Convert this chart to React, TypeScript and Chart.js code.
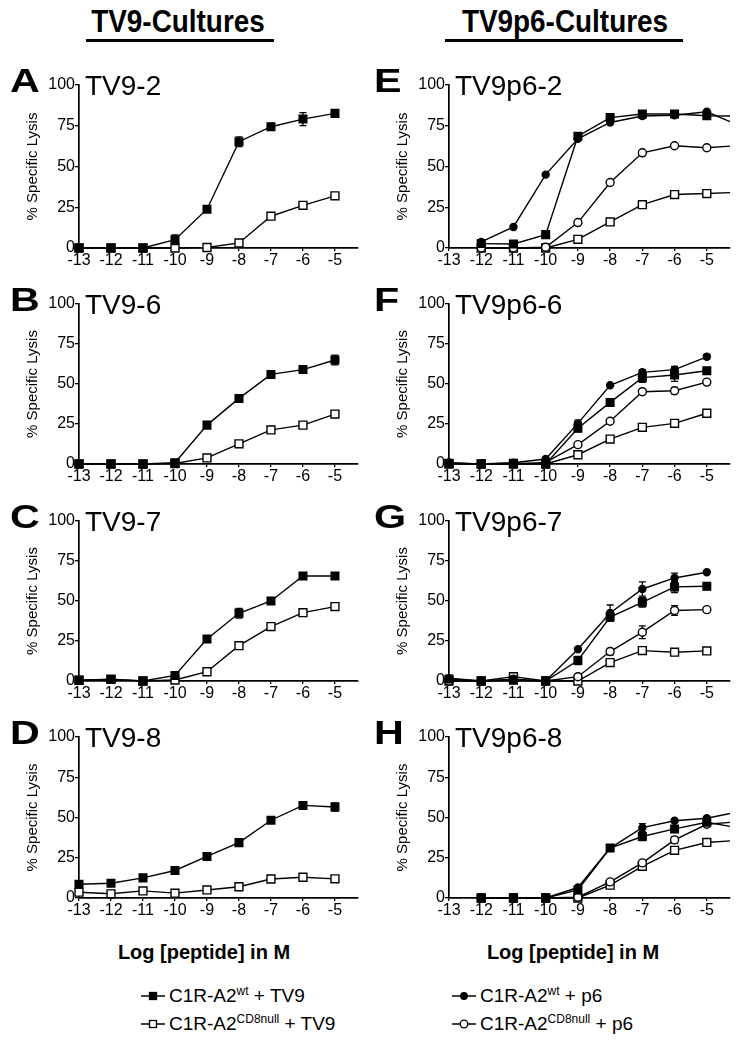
import React, { useEffect, useRef } from "react";
import { Chart, registerables } from "chart.js";

Chart.register(...registerables);

const FONT = "'Liberation Sans', Arial, Helvetica, sans-serif";

// ---------- data ----------
const doses = [-13, -12, -11, -10, -9, -8, -7, -6, -5];
const axisEnd = -4.28; // end of the x axis (fitted lines in E/H run to it)
const xTickLabels = ["-13", "-12", "-11", "-10", "-9", "-8", "-7", "-6", "-5"];
const yTickValues = [0, 25, 50, 75, 100];
const yAxisTitle = "% Specific Lysis";
const xAxisTitle = "Log [peptide] in M";
const columnHeaders = ["TV9-Cultures", "TV9p6-Cultures"];

// A: TV9-2
const A_wtTV9 = [0, 0, 0, 5.1, 23.8, 65.2, 74.4, 79.1, 82.6];
const A_wtTV9_err = [0, 0, 0, 3, 1, 3, 2, 4, 0];
const A_nullTV9 = [0, 0, 0, 0, 0.3, 3.1, 19.5, 26.2, 32];
// B: TV9-6
const B_wtTV9 = [0, 0, 0, 0.8, 24.3, 41, 56, 59, 65];
const B_wtTV9_err = [0, 0, 0, 0, 2, 0, 1.5, 0, 3];
const B_nullTV9 = [0, 0, 0, 0.3, 3.8, 12.6, 21.3, 24.3, 31.2];
// C: TV9-7
const C_wtTV9 = [0.6, 1, 0, 3.5, 26.3, 42.3, 50, 65.6, 65.6];
const C_wtTV9_err = [0, 0, 0, 0, 1.5, 3, 1.5, 2, 0];
const C_nullTV9 = [0.4, 1.2, 0, 0.6, 5.8, 22.1, 34, 42.7, 46.5];
// D: TV9-8
const D_wtTV9 = [8.5, 9.2, 12.5, 17.1, 25.8, 34.4, 48.3, 57.5, 56.5];
const D_wtTV9_err = [0, 0, 0, 0, 0, 0, 0, 0, 2.5];
const D_nullTV9 = [3.6, 2.6, 4.4, 3, 5, 7, 11.8, 12.9, 11.9];
// E: TV9p6-2 (last value = line end at axis end)
const E_wtTV9 = [null, 2.7, 2.5, 8.2, 68.6, 80, 82.2, 82.2, 81.1, 81];
const E_wtP6 = [null, 3.7, 12.9, 45, 67, 77, 81, 81.4, 83.6, 77.5];
const E_nullP6 = [null, 0, 0, 0.5, 15.6, 40.2, 58.4, 62.7, 61.5, 62.5];
const E_nullTV9 = [null, 0, 0, 0, 5.3, 16, 26.6, 32.8, 33.4, 34];
// F: TV9p6-6
const F_wtP6 = [0.6, 0, 0.8, 3.1, 25.4, 49.2, 57.3, 59, 67];
const F_wtP6_err = [0, 0, 0, 0, 2, 0, 1.5, 2, 1.5];
const F_wtTV9 = [0.5, 0, 0.5, 0, 22.3, 38.5, 54, 55.6, 58.3];
const F_wtTV9_err = [0, 0, 0, 0, 2, 2, 3, 4, 0];
const F_nullP6 = [0.6, 0, 0, 1, 12.1, 26.7, 45.2, 45.8, 51.2];
const F_nullP6_err = [0, 0, 0, 0, 0, 0, 0, 2, 0];
const F_nullTV9 = [0, 0, 0, 0, 5.8, 15.6, 22.9, 25.4, 31.7];
// G: TV9p6-7
const G_wtP6 = [1.7, 0, 0.6, 0, 19.9, 42.5, 57.5, 64.4, 68];
const G_wtP6_err = [0, 0, 0, 0, 0, 5, 4.5, 3, 0];
const G_wtTV9 = [1.3, 0, 0.5, 0, 12.8, 40, 49.2, 58.8, 59.2];
const G_wtTV9_err = [0, 0, 0, 0, 2.5, 2.5, 3, 3.5, 2];
const G_nullP6 = [0, 0, 1.2, 0, 2.7, 18.4, 30.5, 44.1, 44.6];
const G_nullP6_err = [0, 0, 0, 0, 0, 2, 4, 3, 0];
const G_nullTV9 = [0, 0, 2.7, 0, 0, 11.5, 19, 18, 18.8];
const G_nullTV9_err = [0, 0, 0, 0, 0, 0, 0, 1.5, 0];
// H: TV9p6-8 (last value = line end at axis end)
const H_wtP6 = [null, 0, 0, 0, 6.5, 31, 43.7, 48, 49.5, 52.5];
const H_wtP6_err = [0, 0, 0, 0, 0, 0, 2.5, 0, 0, 0];
const H_wtTV9 = [null, 0, 0, 0, 5, 31, 38.2, 42.9, 47, 44.5];
const H_wtTV9_err = [0, 0, 0, 0, 0, 1.5, 2.5, 2, 0, 0];
const H_nullP6 = [null, 0, 0, 0, 0.5, 10, 21.8, 36.1, 45.8, 47];
const H_nullP6_err = [0, 0, 0, 0, 0, 0, 0, 2, 0, 0];
const H_nullTV9 = [null, 0, 0, 0, 0, 8, 19.7, 29.6, 34.5, 35.5];

type Kind = "wtTV9" | "nullTV9" | "wtP6" | "nullP6";
type Series = { kind: Kind; y: (number | null)[]; err?: number[] };
type Panel = { letter: string; title: string; col: number; row: number; series: Series[] };

const panels: Panel[] = [
  { letter: "A", title: "TV9-2", col: 0, row: 0, series: [
    { kind: "wtTV9", y: A_wtTV9, err: A_wtTV9_err }, { kind: "nullTV9", y: A_nullTV9 } ] },
  { letter: "B", title: "TV9-6", col: 0, row: 1, series: [
    { kind: "wtTV9", y: B_wtTV9, err: B_wtTV9_err }, { kind: "nullTV9", y: B_nullTV9 } ] },
  { letter: "C", title: "TV9-7", col: 0, row: 2, series: [
    { kind: "wtTV9", y: C_wtTV9, err: C_wtTV9_err }, { kind: "nullTV9", y: C_nullTV9 } ] },
  { letter: "D", title: "TV9-8", col: 0, row: 3, series: [
    { kind: "wtTV9", y: D_wtTV9, err: D_wtTV9_err }, { kind: "nullTV9", y: D_nullTV9 } ] },
  { letter: "E", title: "TV9p6-2", col: 1, row: 0, series: [
    { kind: "wtTV9", y: E_wtTV9 }, { kind: "wtP6", y: E_wtP6 },
    { kind: "nullP6", y: E_nullP6 }, { kind: "nullTV9", y: E_nullTV9 } ] },
  { letter: "F", title: "TV9p6-6", col: 1, row: 1, series: [
    { kind: "wtP6", y: F_wtP6, err: F_wtP6_err }, { kind: "wtTV9", y: F_wtTV9, err: F_wtTV9_err },
    { kind: "nullP6", y: F_nullP6, err: F_nullP6_err }, { kind: "nullTV9", y: F_nullTV9 } ] },
  { letter: "G", title: "TV9p6-7", col: 1, row: 2, series: [
    { kind: "wtP6", y: G_wtP6, err: G_wtP6_err }, { kind: "wtTV9", y: G_wtTV9, err: G_wtTV9_err },
    { kind: "nullP6", y: G_nullP6, err: G_nullP6_err }, { kind: "nullTV9", y: G_nullTV9, err: G_nullTV9_err } ] },
  { letter: "H", title: "TV9p6-8", col: 1, row: 3, series: [
    { kind: "wtP6", y: H_wtP6, err: H_wtP6_err }, { kind: "wtTV9", y: H_wtTV9, err: H_wtTV9_err },
    { kind: "nullP6", y: H_nullP6, err: H_nullP6_err }, { kind: "nullTV9", y: H_nullTV9 } ] },
];

const legendItems: { kind: Kind; base: string; sup: string; suffix: string }[] = [
  { kind: "wtTV9", base: "C1R-A2", sup: "wt", suffix: " + TV9" },
  { kind: "nullTV9", base: "C1R-A2", sup: "CD8null", suffix: " + TV9" },
  { kind: "wtP6", base: "C1R-A2", sup: "wt", suffix: " + p6" },
  { kind: "nullP6", base: "C1R-A2", sup: "CD8null", suffix: " + p6" },
];

// ---------- styles / layout ----------
const markerStyle: Record<Kind, { shape: "rect" | "circle"; fill: boolean; r: number }> = {
  wtTV9: { shape: "rect", fill: true, r: 5.4 },
  nullTV9: { shape: "rect", fill: false, r: 5.6 },
  wtP6: { shape: "circle", fill: true, r: 3.5 },
  nullP6: { shape: "circle", fill: false, r: 4 },
};

const COLS = [
  { x0: 0, w: 370, axisX: 79, right: 358 },
  { x0: 370, w: 369, axisX: 79, right: 360 },
];
const ROWS = [
  { top: 85, bottom: 248 },
  { top: 304, bottom: 464 },
  { top: 521, bottom: 681 },
  { top: 737, bottom: 898 },
];
const PAD_TOP = 12;
const X_AXIS_H = 30;

const errorBars = {
  id: "errorBars",
  beforeDatasetDraw(chart: any, args: any) {
    const ds: any = chart.data.datasets[args.index];
    const errs: number[] | undefined = ds.errors;
    if (!errs) return;
    const xs = chart.scales.x;
    const ys = chart.scales.y;
    const ctx = chart.ctx;
    ctx.save();
    ctx.strokeStyle = "#000";
    ctx.lineWidth = 1.3;
    ds.data.forEach((p: any, i: number) => {
      const e = errs[i];
      if (!e || p.y == null) return;
      const px = xs.getPixelForValue(p.x);
      const t = ys.getPixelForValue(p.y + e);
      const b = ys.getPixelForValue(p.y - e);
      ctx.beginPath();
      ctx.moveTo(px, t);
      ctx.lineTo(px, b);
      ctx.moveTo(px - 3.5, t);
      ctx.lineTo(px + 3.5, t);
      ctx.moveTo(px - 3.5, b);
      ctx.lineTo(px + 3.5, b);
      ctx.stroke();
    });
    ctx.restore();
  },
};

function PanelChart({ p }: { p: Panel }) {
  const ref = useRef<HTMLCanvasElement | null>(null);
  const col = COLS[p.col];
  const row = ROWS[p.row];
  const h = PAD_TOP + (row.bottom - row.top) + X_AXIS_H;

  useEffect(() => {
    if (!ref.current) return;
    const datasets = p.series.map((s) => {
      const st = markerStyle[s.kind];
      return {
        data: s.y.map((v, i) => ({ x: i < doses.length ? doses[i] : axisEnd, y: v })),
        errors: s.err,
        borderColor: "#000",
        borderWidth: 1.4,
        backgroundColor: st.fill ? "#000" : "#fff",
        pointStyle: st.shape,
        pointRadius: (c: any) => (c.dataIndex < doses.length ? st.r : 0),
        pointHoverRadius: (c: any) => (c.dataIndex < doses.length ? st.r : 0),
        pointBorderWidth: 1.4,
        pointBorderColor: "#000",
        pointBackgroundColor: st.fill ? "#000" : "#fff",
        fill: false,
        tension: 0,
        clip: false,
        spanGaps: false,
      };
    });
    const tickFont = { family: FONT, size: 16 };
    const chart = new Chart(ref.current, {
      type: "line",
      data: { datasets } as any,
      options: {
        animation: false,
        responsive: false,
        devicePixelRatio: 1,
        events: [],
        layout: { padding: { top: PAD_TOP, left: 0, bottom: 0, right: col.w - col.right } },
        plugins: { legend: { display: false }, tooltip: { enabled: false } },
        scales: {
          x: {
            type: "linear",
            min: doses[0],
            max: axisEnd,
            afterBuildTicks: (s: any) => { s.ticks = doses.map((v) => ({ value: v })); },
            afterFit: (s: any) => { s.height = X_AXIS_H; },
            grid: { drawOnChartArea: false, drawTicks: true, tickLength: 3, color: "#000", lineWidth: 1.3 },
            border: { display: true, color: "#000", width: 1.7 },
            ticks: {
              color: "#000", font: tickFont, padding: 0, maxRotation: 0, autoSkip: false,
              callback: (v: any) => xTickLabels[doses.indexOf(Number(v))] ?? "",
            },
          },
          y: {
            type: "linear",
            min: 0,
            max: 100,
            afterBuildTicks: (s: any) => { s.ticks = yTickValues.map((v) => ({ value: v })); },
            afterFit: (s: any) => { s.width = col.axisX; },
            grid: { drawOnChartArea: false, drawTicks: true, tickLength: 4, color: "#000", lineWidth: 1.3 },
            border: { display: true, color: "#000", width: 1.7 },
            ticks: { color: "#000", font: tickFont, padding: 0, callback: (v: any) => String(v) },
            title: {
              display: true, text: yAxisTitle, color: "#000",
              font: { family: FONT, size: 15 }, padding: { top: 24, bottom: 0 },
            },
          },
        },
      } as any,
      plugins: [errorBars as any],
    });
    return () => chart.destroy();
  }, []);

  return (
    <canvas
      ref={ref}
      width={col.w}
      height={h}
      style={{ position: "absolute", left: col.x0, top: row.top - PAD_TOP, width: col.w, height: h }}
    />
  );
}

function LegendMarker({ kind }: { kind: Kind }) {
  const st = markerStyle[kind];
  return (
    <svg width={24} height={12} style={{ position: "absolute", left: 0, top: -6 }}>
      <line x1={0} y1={6} x2={24} y2={6} stroke="#000" strokeWidth={1.5} />
      {st.shape === "rect" ? (
        <rect x={8.5} y={2.5} width={7} height={7} fill={st.fill ? "#000" : "#fff"} stroke="#000" strokeWidth={1.3} />
      ) : (
        <circle cx={12} cy={6} r={st.fill ? 3.3 : 3.8} fill={st.fill ? "#000" : "#fff"} stroke="#000" strokeWidth={1.3} />
      )}
    </svg>
  );
}

export default function App() {
  const letterPos = [{ x: 10 }, { x: 374 }];
  const legendPos = [
    { x: 141, y: 996 }, { x: 141, y: 1024 }, { x: 452, y: 996 }, { x: 452, y: 1024 },
  ];
  const headerCenters = [178, 565];
  const underline = [{ x1: 86, x2: 274 }, { x1: 445, x2: 683 }];
  const logCenters = [204, 573];

  return (
    <div style={{ position: "absolute", left: 0, top: 0, width: 739, height: 1050, background: "#fff", overflow: "hidden", fontFamily: FONT, color: "#000" }}>
      {columnHeaders.map((t, i) => (
        <div key={t}>
          <div style={{ position: "absolute", left: headerCenters[i] - 150, top: 6, width: 300, textAlign: "center", fontSize: 31, lineHeight: "31px", fontWeight: 700, transform: "scaleX(0.9)" }}>{t}</div>
          <div style={{ position: "absolute", left: underline[i].x1, top: 39, width: underline[i].x2 - underline[i].x1, height: 3, background: "#000" }} />
        </div>
      ))}

      {panels.map((p) => (
        <PanelChart key={p.letter} p={p} />
      ))}

      {panels.map((p) => {
        const row = ROWS[p.row];
        const col = COLS[p.col];
        return (
          <React.Fragment key={"t" + p.letter}>
            <div style={{ position: "absolute", left: letterPos[p.col].x, top: row.top + 7 - 28, fontSize: 33, lineHeight: "33px", fontWeight: 700, transform: "scaleX(1.25)", transformOrigin: "left center" }}>{p.letter}</div>
            <div style={{ position: "absolute", left: col.x0 + 85, top: row.top + 11 - 24, fontSize: 28, lineHeight: "28px", whiteSpace: "nowrap" }}>{p.title}</div>
          </React.Fragment>
        );
      })}

      {logCenters.map((c, i) => (
        <div key={"log" + i} style={{ position: "absolute", left: c - 120, width: 240, top: 942, textAlign: "center", fontSize: 20, lineHeight: "20px", fontWeight: 700 }}>{xAxisTitle}</div>
      ))}

      {legendItems.map((it, i) => (
        <div key={"lg" + i} style={{ position: "absolute", left: legendPos[i].x, top: legendPos[i].y, height: 0 }}>
          <LegendMarker kind={it.kind} />
          <div style={{ position: "absolute", left: 28, top: -11, fontSize: 19, lineHeight: "22px", whiteSpace: "nowrap" }}>
            {it.base}
            <span style={{ fontSize: 12, position: "relative", top: -7 }}>{it.sup}</span>
            {it.suffix}
          </div>
        </div>
      ))}
    </div>
  );
}
